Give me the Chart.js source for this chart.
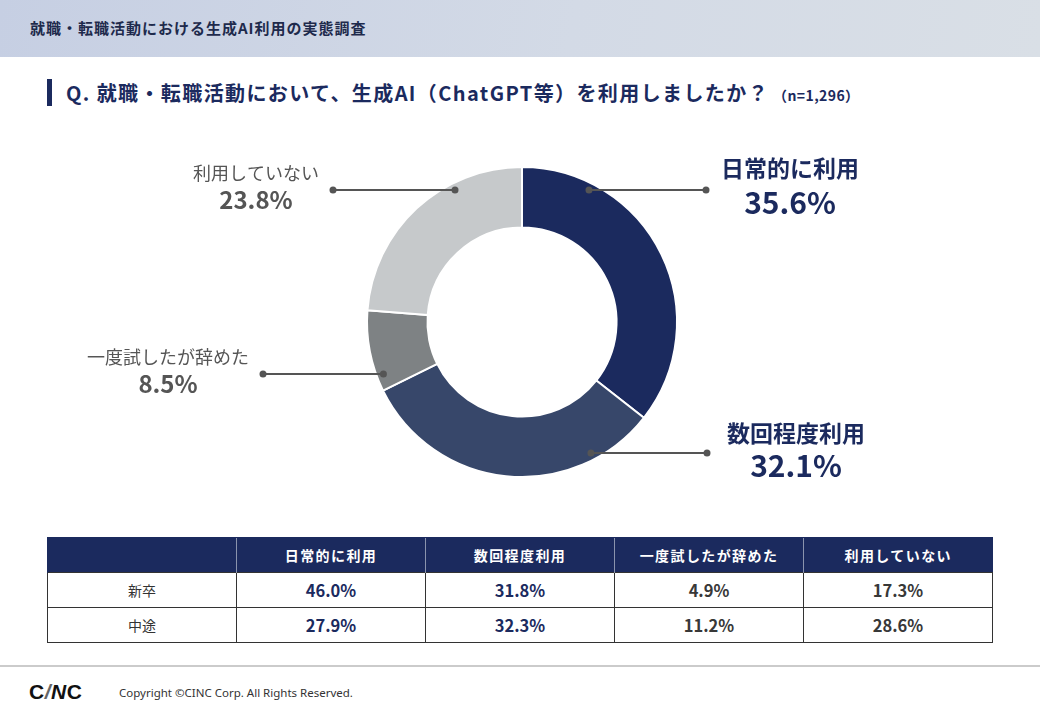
<!DOCTYPE html>
<html lang="ja">
<head>
<meta charset="utf-8">
<title>就職・転職活動における生成AI利用の実態調査</title>
<script src="https://cdn.jsdelivr.net/npm/chart.js@4.4.1/dist/chart.umd.min.js"></script>
<style>
  html, body { margin: 0; padding: 0; }
  body {
    width: 1040px; height: 720px; position: relative; overflow: hidden;
    background: #fff; font-family: "Noto Sans CJK JP", "Noto Sans", sans-serif; color: #333;
  }
  .band {
    position: absolute; left: 0; top: 0; width: 1040px; height: 57px;
    background: linear-gradient(100deg, #c6cfe3 0%, #d3dae6 55%, #d9dfe6 100%);
  }
  .band span {
    position: absolute; left: 30px; top: 17px; font-size: 15px; font-weight: 700;
    letter-spacing: 1px; color: #1e2a4c;
  }
  .title {
    position: absolute; left: 47px; top: 79px; height: 27px;
    border-left: 5px solid #1b2a5e; padding-left: 14px;
    font-size: 20px; font-weight: 700; color: #1b2a5e; letter-spacing: 1.4px; line-height: 27px;
    white-space: nowrap;
  }
  .title small { font-size: 14px; letter-spacing: 0.4px; margin-left: 4px; }
  .chartbox { position: absolute; left: 0; top: 130px; width: 1040px; height: 384px; }
  table {
    position: absolute; left: 47px; top: 537px; width: 946px;
    border-collapse: collapse; table-layout: fixed;
  }
  th {
    background: #1b2a5e; color: #fff; height: 34px; padding: 0; font-size: 14px; font-weight: 700;
    letter-spacing: 1.4px; border-left: 1px solid #8a93ad; border-top: 1px solid #1b2a5e;
  }
  th:first-child { border-left: 1px solid #1b2a5e; }
  td {
    height: 34px; border: 1px solid #333; text-align: center;
    font-size: 16.5px; font-weight: 700; color: #383838; padding: 0;
  }
  td.row { font-size: 14px; font-weight: 400; color: #333; }
  td.hi { color: #1b2a5e; }
  .foot { position: absolute; left: 0; top: 665px; width: 1040px; height: 2px; background: #cbcbcb; }
  .logo {
    position: absolute; left: 29px; top: 680px; font-family: "Liberation Sans", Arial, sans-serif;
    font-size: 21px; font-weight: 700; color: #111; letter-spacing: 0.5px;
  }
  .logo i { color: #666; }
  .copy { position: absolute; left: 119px; top: 685px; font-family: "Noto Sans", sans-serif; font-size: 11.5px; color: #333; }
</style>
</head>
<body>
<div class="band"><span>就職・転職活動における生成AI利用の実態調査</span></div>
<div class="title">Q. 就職・転職活動において、生成AI（ChatGPT等）を利用しましたか？<small>（n=1,296）</small></div>
<div class="chartbox"><canvas id="donut"></canvas></div>
<table id="tbl"></table>
<div class="foot"></div>
<div class="logo">C<i>/</i><span style="font-style:italic">N</span>C</div>
<div class="copy">Copyright ©CINC Corp. All Rights Reserved.</div>

<script>
// 全体（n=1,296）
const categories = ['日常的に利用', '数回程度利用', '一度試したが辞めた', '利用していない'];
const totalShare = [35.6, 32.1, 8.5, 23.8];

// 属性別
const groups = ['新卒', '中途'];
const shinsotsu = [46.0, 31.8, 4.9, 17.3];
const chuto = [27.9, 32.3, 11.2, 28.6];

const sliceColors = ['#1b2a5e', '#37476a', '#7e8284', '#c6c9cb'];

// table
const tbl = document.getElementById('tbl');
let html = '<tr><th></th>' + categories.map(c => '<th>' + c + '</th>').join('') + '</tr>';
[shinsotsu, chuto].forEach((row, r) => {
  html += '<tr><td class="row">' + groups[r] + '</td>' +
    row.map((v, i) => '<td class="' + (i < 2 ? 'hi' : '') + '">' + v.toFixed(1) + '%</td>').join('') + '</tr>';
});
tbl.innerHTML = html;

// leader lines + labels around the donut (offsets from the centre, px)
const leaders = [
  { side: 1, dy: -132, end: 184, tx: 268, ly: -154, vy: -119, big: true },
  { side: 1, dy: 131, end: 185, tx: 274, ly: 111, vy: 144, big: true },
  { side: -1, dy: 52, end: 259, tx: 354, ly: 35, vy: 62, big: false },
  { side: -1, dy: -132, end: 189, tx: 266, ly: -149, vy: -122, big: false }
];

const leaderPlugin = {
  id: 'leaders',
  afterDatasetsDraw(chart) {
    const arcs = chart.getDatasetMeta(0).data;
    if (!arcs.length) return;
    const { x: cx, y: cy, outerRadius: R } = arcs[0];
    const ctx = chart.ctx;
    ctx.save();
    leaders.forEach((l, i) => {
      const r = R * 0.955;
      const dotX = cx + l.side * Math.sqrt(r * r - l.dy * l.dy);
      const endX = cx + l.side * l.end;
      const y = cy + l.dy;
      ctx.strokeStyle = '#555';
      ctx.fillStyle = '#555';
      ctx.lineWidth = 2;
      ctx.beginPath();
      ctx.moveTo(dotX, y);
      ctx.lineTo(endX, y);
      ctx.stroke();
      [dotX, endX].forEach(px => {
        ctx.beginPath();
        ctx.arc(px, y, 3.5, 0, Math.PI * 2);
        ctx.fill();
      });
      const tx = cx + l.side * l.tx;
      ctx.textAlign = 'center';
      ctx.textBaseline = 'middle';
      ctx.fillStyle = l.big ? '#1b2a5e' : '#555';
      ctx.font = (l.big ? '700 23px' : '400 18px') + ' "Noto Sans CJK JP", sans-serif';
      ctx.fillText(categories[i], tx, cy + l.ly);
      ctx.font = (l.big ? '700 30px' : '700 24px') + ' "Noto Sans CJK JP", sans-serif';
      ctx.fillText(totalShare[i].toFixed(1) + '%', tx, cy + l.vy);
    });
    ctx.restore();
  }
};

new Chart(document.getElementById('donut'), {
  type: 'doughnut',
  data: {
    labels: categories,
    datasets: [{
      data: totalShare,
      backgroundColor: sliceColors,
      borderColor: '#fff',
      borderWidth: 2,
      hoverOffset: 0
    }]
  },
  options: {
    responsive: true,
    maintainAspectRatio: false,
    animation: false,
    events: [],
    cutout: '61%',
    layout: { padding: { top: 36, bottom: 36, left: 4, right: 0 } },
    plugins: {
      legend: { display: false },
      tooltip: { enabled: false }
    }
  },
  plugins: [leaderPlugin]
});
</script>
</body>
</html>
